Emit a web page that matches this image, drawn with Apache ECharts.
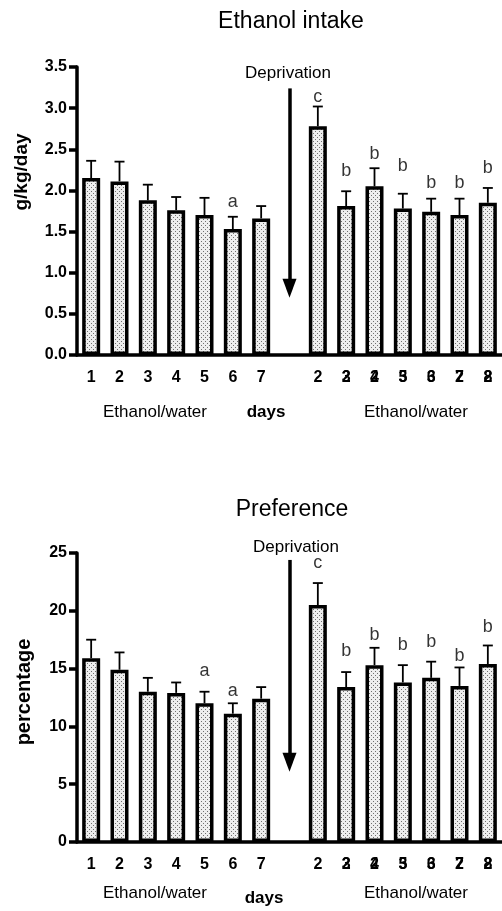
<!DOCTYPE html>
<html>
<head>
<meta charset="utf-8">
<script src="https://cdn.jsdelivr.net/npm/echarts@6/dist/echarts.min.js"></script>
<style>
  html, body { margin: 0; padding: 0; background: #fff; }
  #main { width: 502px; height: 911px; }
</style>
</head>
<body>
<div id="main"></div>
<script>
// days: 7 days ethanol/water, a gap (deprivation), then 7 days again
const categories = ['1', '2', '3', '4', '5', '6', '7', '', '2', '3', '4', '5', '6', '7', '8'];
const overLabels = ['', '', '', '', '', '', '', '', '', '2', '2', '3', '3', '2', '2'];

const intakeMean = [2.15, 2.11, 1.88, 1.76, 1.70, 1.53, 1.66, null, 2.78, 1.81, 2.05, 1.78, 1.74, 1.70, 1.85];
const intakeSem = [0.21, 0.24, 0.19, 0.16, 0.21, 0.15, 0.15, null, 0.24, 0.18, 0.22, 0.18, 0.16, 0.20, 0.18];
const intakeLetters = ['', '', '', '', '', 'a', '', '', 'c', 'b', 'b', 'b', 'b', 'b', 'b'];
const intakeLetterY = [null, null, null, null, null, 1.86, null, null, 3.14, 2.23, 2.44, 2.30, 2.09, 2.09, 2.27];

const prefMean = [15.9, 14.9, 13.0, 12.9, 12.0, 11.1, 12.4, null, 20.5, 13.4, 15.3, 13.8, 14.2, 13.5, 15.4];
const prefSem = [1.6, 1.5, 1.2, 0.9, 1.0, 0.9, 1.0, null, 1.9, 1.3, 1.5, 1.5, 1.4, 1.6, 1.6];
const prefLetters = ['', '', '', '', 'a', 'a', '', '', 'c', 'b', 'b', 'b', 'b', 'b', 'b'];
const prefLetterY = [null, null, null, null, 14.8, 13.1, null, null, 24.1, 16.5, 17.9, 17.0, 17.3, 16.1, 18.6];

const FONT = 'Liberation Sans, Arial, sans-serif';

// dotted fill like the printed figure
function dotPattern() {
  const c = document.createElement('canvas');
  c.width = 4; c.height = 4;
  const ctx = c.getContext('2d');
  ctx.fillStyle = '#eeeeee';
  ctx.fillRect(0, 0, 4, 4);
  ctx.fillStyle = '#707070';
  ctx.fillRect(1, 1, 1, 1);
  ctx.fillRect(3, 3, 1, 1);
  return c;
}
const fill = { image: dotPattern(), repeat: 'repeat' };

function xAxes(grid) {
  const lbl = { color: '#000', fontFamily: FONT, fontWeight: 'bold', fontSize: 16, margin: 15, interval: 0 };
  return [
    {
      type: 'category', gridIndex: grid, data: categories,
      axisLine: { lineStyle: { color: '#000', width: 3.5 } },
      axisTick: { alignWithLabel: true, length: 8, lineStyle: { width: 3.5, color: '#000' } },
      axisLabel: lbl
    },
    {
      type: 'category', gridIndex: grid, data: overLabels, position: 'bottom',
      axisLine: { show: false }, axisTick: { show: false },
      axisLabel: lbl
    }
  ];
}

function yAxis(grid, max, interval, digits) {
  return {
    type: 'value', gridIndex: grid, min: 0, max: max, interval: interval,
    splitLine: { show: false },
    axisLine: { show: true, lineStyle: { color: '#000', width: 3.5 } },
    axisTick: { show: true, length: 8, lineStyle: { width: 3.5, color: '#000' } },
    axisLabel: {
      color: '#000', fontFamily: FONT, fontWeight: 'bold', fontSize: 16, margin: 10,
      formatter: v => v.toFixed(digits)
    }
  };
}

function errorSeries(axisIdx, mean, sem) {
  return {
    type: 'custom', xAxisIndex: axisIdx, yAxisIndex: axisIdx / 2, z: 1,
    data: mean.map((m, i) => m == null ? [i, null, null] : [i, m, m + sem[i]]),
    renderItem: (params, api) => {
      if (api.value(1) == null || isNaN(api.value(1))) return;
      const lo = api.coord([api.value(0), api.value(1)]);
      const hi = api.coord([api.value(0), api.value(2)]);
      const st = { stroke: '#000', lineWidth: 1.8 };
      return {
        type: 'group', children: [
          { type: 'line', shape: { x1: lo[0], y1: lo[1], x2: hi[0], y2: hi[1] }, style: st },
          { type: 'line', shape: { x1: hi[0] - 5, y1: hi[1], x2: hi[0] + 5, y2: hi[1] }, style: st }
        ]
      };
    }
  };
}

function letterSeries(axisIdx, letters, ys) {
  return {
    type: 'scatter', xAxisIndex: axisIdx, yAxisIndex: axisIdx / 2, symbolSize: 0,
    data: ys.map((y, i) => y == null ? [i, null] : [i, y]),
    label: {
      show: true, position: 'inside', color: '#000', fontFamily: FONT, fontSize: 18,
      formatter: p => letters[p.dataIndex]
    },
    silent: true
  };
}

function barSeries(axisIdx, mean, arrowFrom, arrowTo) {
  return {
    type: 'bar', xAxisIndex: axisIdx, yAxisIndex: axisIdx / 2, barWidth: 18,
    data: mean,
    itemStyle: { color: fill, borderColor: '#000', borderWidth: 3.5 },
    markLine: {
      silent: true, symbol: ['none', 'triangle'], symbolSize: [14, 19],
      label: { show: false },
      lineStyle: { color: '#000', width: 3.5, type: 'solid' },
      data: [[{ coord: [7, arrowFrom] }, { coord: [7, arrowTo] }]]
    }
  };
}

function text(x, y, str, size, opts) {
  return {
    type: 'text', x: x, y: y,
    style: Object.assign({
      text: str, fontSize: size, fontFamily: FONT, fill: '#000',
      textAlign: 'center', textVerticalAlign: 'middle'
    }, opts || {})
  };
}

const chart = echarts.init(document.getElementById('main'));
chart.setOption({
  animation: false,
  grid: [
    { left: 77, right: 0, top: 67, height: 288 },
    { left: 77, right: 0, top: 553, height: 289 }
  ],
  xAxis: xAxes(0).concat(xAxes(1)),
  yAxis: [yAxis(0, 3.5, 0.5, 1), yAxis(1, 25, 5, 0)],
  series: [
    barSeries(0, intakeMean, 3.24, 0.81),
    errorSeries(0, intakeMean, intakeSem),
    letterSeries(0, intakeLetters, intakeLetterY),
    barSeries(2, prefMean, 24.4, 6.9),
    errorSeries(2, prefMean, prefSem),
    letterSeries(2, prefLetters, prefLetterY)
  ],
  graphic: [
    text(291, 22, 'Ethanol intake', 23),
    text(288, 73, 'Deprivation', 17),
    text(155, 412, 'Ethanol/water', 17),
    text(266, 412, 'days', 17, { fontWeight: 'bold' }),
    text(416, 412, 'Ethanol/water', 17),
    { type: 'text', x: 22, y: 172, rotation: Math.PI / 2,
      style: { text: 'g/kg/day', fontSize: 19, fontWeight: 900, fontFamily: FONT, fill: '#000',
        textAlign: 'center', textVerticalAlign: 'middle' } },

    text(292, 510, 'Preference', 23),
    text(296, 547, 'Deprivation', 17),
    text(155, 893, 'Ethanol/water', 17),
    text(264, 898, 'days', 17, { fontWeight: 'bold' }),
    text(416, 893, 'Ethanol/water', 17),
    { type: 'text', x: 24, y: 692, rotation: Math.PI / 2,
      style: { text: 'percentage', fontSize: 20, fontWeight: 900, fontFamily: FONT, fill: '#000',
        textAlign: 'center', textVerticalAlign: 'middle' } }
  ]
});
</script>
</body>
</html>
